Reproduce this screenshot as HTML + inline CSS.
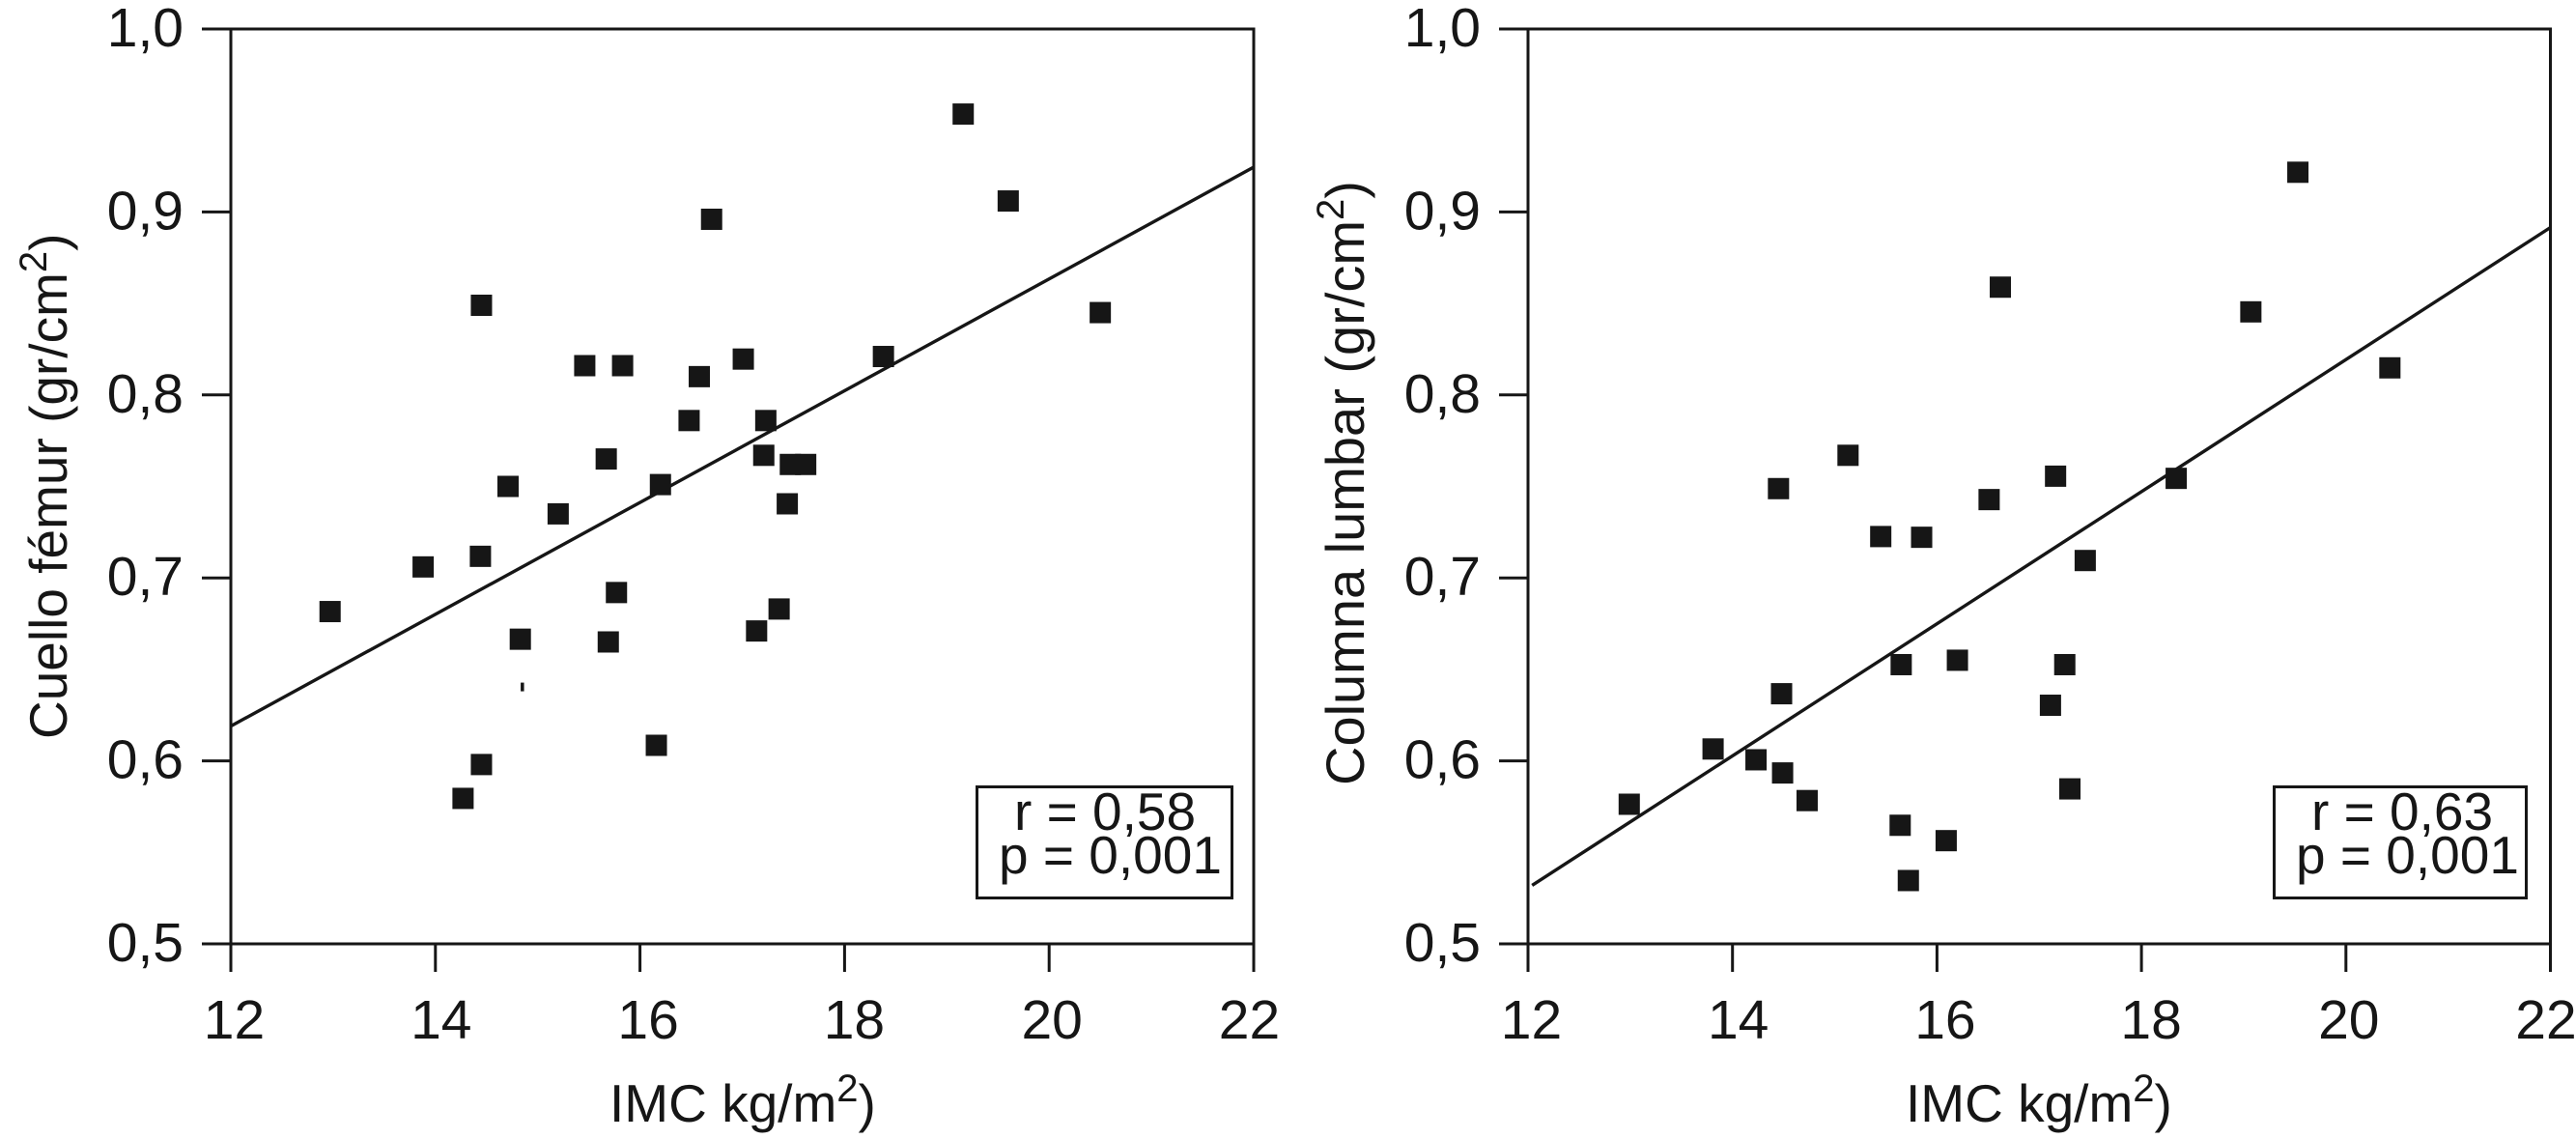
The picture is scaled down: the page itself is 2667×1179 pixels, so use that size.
<!DOCTYPE html>
<html lang="es">
<head>
<meta charset="utf-8">
<title>IMC vs densidad ósea</title>
<style>
html,body{margin:0;padding:0;background:#fff;}
svg{display:block;}
text{font-family:"Liberation Sans",Arial,sans-serif;fill:#161616;}
</style>
</head>
<body>
<svg id="chart" xmlns="http://www.w3.org/2000/svg" width="2667" height="1179" viewBox="0 0 2667 1179"></svg>
<script>
const xTicks = [12, 14, 16, 18, 20, 22];
const yTicks = [0.5, 0.6, 0.7, 0.8, 0.9, 1.0];
const yTickLabels = ['0,5', '0,6', '0,7', '0,8', '0,9', '1,0'];

const femurBmi = [12.97,13.88,14.44,14.45,14.45,14.27,14.71,14.83,15.2,15.46,15.83,15.67,15.69,15.77,16.16,16.2,16.48,16.58,16.7,17.01,17.14,17.23,17.21,17.36,17.44,17.47,17.62,18.38,19.16,19.6,20.5];
const femurDensity = [0.6816,0.706,0.7118,0.849,0.598,0.5795,0.75,0.6665,0.735,0.816,0.816,0.765,0.665,0.692,0.6085,0.751,0.786,0.81,0.896,0.8196,0.671,0.786,0.767,0.683,0.7405,0.762,0.762,0.821,0.9535,0.906,0.845];
const femurFitX = [12, 22];
const femurFitY = [0.619, 0.9245];

const lumbarBmi = [12.99,13.81,14.23,14.45,14.48,14.49,14.73,15.13,15.45,15.65,15.64,15.72,15.85,16.09,16.2,16.51,16.62,17.11,17.16,17.25,17.3,17.45,18.34,19.07,19.53,20.43];
const lumbarDensity = [0.5763,0.6065,0.6006,0.7488,0.6367,0.5934,0.5783,0.767,0.7226,0.6526,0.5648,0.5346,0.7222,0.5564,0.655,0.7428,0.8589,0.6304,0.7556,0.6526,0.5847,0.7095,0.7544,0.8454,0.9217,0.8148];
const lumbarFitX = [12.04, 22];
const lumbarFitY = [0.532, 0.8915];

const femurSpeckX = 14.85;
const femurSpeckY = 0.6404;

const NS = 'http://www.w3.org/2000/svg';
const INK = '#161616';
const root = document.getElementById('chart');

function make(parent, tag, attrs) {
  const el = document.createElementNS(NS, tag);
  for (const k in attrs) el.setAttribute(k, attrs[k]);
  parent.appendChild(el);
  return el;
}

function labelNudge(t) {
  if (t === 12) return 3.5;
  if (t === 14) return 6;
  if (t === 16) return 8.5;
  if (t === 18) return 10;
  if (t === 20) return 3;
  return -4.5;
}

function drawPanel(cfg) {
  const sx = v => cfg.left + (v - 12) / 10 * (cfg.right - cfg.left);
  const sy = v => cfg.bottom - (v - 0.5) / 0.5 * (cfg.bottom - cfg.top);

  const g = make(root, 'g', {});
  
  

  const frame = make(g, 'rect', {x: cfg.left, y: cfg.top, width: cfg.right - cfg.left, height: cfg.bottom - cfg.top, fill: 'none', stroke: INK, 'stroke-width': 3});
  
  

  xTicks.forEach(t => {
    const tick = make(g, 'line', {x1: sx(t), x2: sx(t), y1: cfg.bottom, y2: cfg.bottom + 29, stroke: INK, 'stroke-width': 3});
    
    
    const label = make(g, 'text', {x: sx(t) + labelNudge(t), y: 1075, 'text-anchor': 'middle', 'font-size': 57});
    label.textContent = String(t);
    
    
  });

  yTicks.forEach((t, i) => {
    const tick = make(g, 'line', {x1: cfg.left - 30, x2: cfg.left, y1: sy(t), y2: sy(t), stroke: INK, 'stroke-width': 3});
    
    
    const label = make(g, 'text', {x: cfg.left - 49, y: sy(t) + 18, 'text-anchor': 'end', 'font-size': 57});
    label.textContent = yTickLabels[i];
    
    
  });

  const fit = make(g, 'line', {x1: sx(cfg.fitX[0]), y1: sy(cfg.fitY[0]), x2: sx(cfg.fitX[1]), y2: sy(cfg.fitY[1]), stroke: INK, 'stroke-width': 3.4});
  
  

  cfg.xs.forEach((v, i) => {
    const p = make(g, 'rect', {x: sx(v) - 11, y: sy(cfg.ys[i]) - 11, width: 22, height: 22, fill: INK});
    
    
  });

  const box = make(g, 'rect', {x: cfg.boxX + 1.5, y: 814.5, width: cfg.boxW - 3, height: 115, fill: '#fff', stroke: INK, 'stroke-width': 3});
  
  

  const rText = make(g, 'text', {x: cfg.rX, y: 859, 'font-size': 55});
  rText.textContent = cfg.rLabel;
  
  

  const pText = make(g, 'text', {x: cfg.pX, y: 904, 'font-size': 55});
  pText.textContent = 'p = 0,001';
  
  

  const xt = make(g, 'text', {x: cfg.xTitleX, y: 1161, 'font-size': 55});
  
  
  make(xt, 'tspan', {}).textContent = 'IMC kg/m';
  make(xt, 'tspan', {dy: -21, 'font-size': 40}).textContent = '2';
  make(xt, 'tspan', {dy: 21}).textContent = ')';

  const yt = make(g, 'text', {transform: 'translate(' + cfg.yTitleX + ' ' + cfg.yTitleY + ') rotate(-90)', x: 0, y: 0, 'font-size': cfg.yTitleSize});
  
  
  make(yt, 'tspan', {}).textContent = cfg.yTitle + ' (gr/cm';
  make(yt, 'tspan', {dy: -21, 'font-size': 40}).textContent = '2';
  make(yt, 'tspan', {dy: 21}).textContent = ')';

  return {sx, sy, g};
}

const femur = drawPanel({
  name: 'femoral-neck', left: 239, right: 1298, top: 30, bottom: 977,
  xs: femurBmi, ys: femurDensity, fitX: femurFitX, fitY: femurFitY,
  boxX: 1010, boxW: 267, rX: 1050, pX: 1034, rLabel: 'r = 0,58',
  xTitleX: 631, yTitleX: 69, yTitleY: 765, yTitleSize: 55, yTitle: 'Cuello fémur'
});

drawPanel({
  name: 'lumbar-spine', left: 1582, right: 2640.5, top: 30, bottom: 977,
  xs: lumbarBmi, ys: lumbarDensity, fitX: lumbarFitX, fitY: lumbarFitY,
  boxX: 2353, boxW: 264, rX: 2393, pX: 2377, rLabel: 'r = 0,63',
  xTitleX: 1973, yTitleX: 1412, yTitleY: 813, yTitleSize: 56, yTitle: 'Columna lumbar'
});

const speck = make(femur.g, 'rect', {x: femur.sx(femurSpeckX) - 1.75, y: femur.sy(femurSpeckY) - 4.5, width: 3.5, height: 9, fill: INK});


</script>
</body>
</html>
